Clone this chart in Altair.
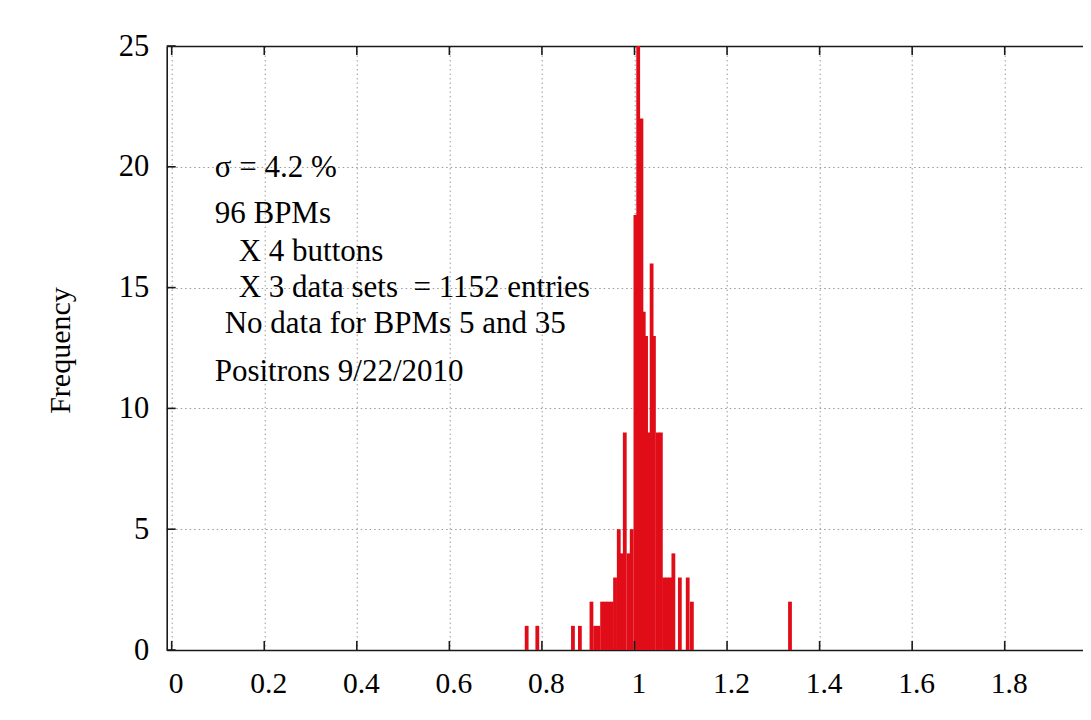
import altair as alt
import pandas as pd

# ---- data ----
gain = [0.767, 0.790, 0.867, 0.882, 0.907, 0.915, 0.922, 0.930, 0.937, 0.944,
        0.951, 0.958, 0.966, 0.972, 0.979, 0.987, 0.994, 1.002, 1.008, 1.015,
        1.020, 1.025, 1.031, 1.037, 1.042, 1.050, 1.057, 1.064, 1.071, 1.078,
        1.084, 1.098, 1.115, 1.124, 1.336]
freq = [1, 1, 1, 1, 2, 1, 1, 2, 2, 2,
        2, 3, 5, 4, 9, 4, 5, 18, 25, 22,
        14, 13, 9, 16, 13, 9, 9, 3, 3, 3,
        4, 3, 3, 2, 2]
x_ticks = [0, 0.2, 0.4, 0.6, 0.8, 1.0, 1.2, 1.4, 1.6, 1.8]
y_ticks = [0, 5, 10, 15, 20, 25]

note_sigma = "σ = 4.2 %"
note_bpms = "96 BPMs"
note_buttons = "X 4 buttons"
note_sets = "X 3 data sets \u00a0= 1152 entries"
note_missing = "No data for BPMs 5 and 35"
note_beam = "Positrons 9/22/2010"

x_title = "Fitted button gain"
y_title = "Frequency"

# ---- layout / style ----
PAD_L = 158.7
W = 1075 - PAD_L
H = 604
X_MAX = W / 467.9
FONT = "Liberation Serif"
RED = "#e00d18"
FRAME = "#1a1a1a"
GRID = "#9a9a9a"
NOTE_SIZE = 31

df = pd.DataFrame({"gain": gain, "freq": freq})
xt = pd.DataFrame({"t": x_ticks})
yt = pd.DataFrame({"t": y_ticks})

xs = alt.Scale(domain=[0, X_MAX], nice=False, zero=False)
ys = alt.Scale(domain=[0, 25], nice=False)

y_axis = alt.Axis(
    values=y_ticks, grid=True, gridDash=[1.5, 3], gridColor=GRID, gridWidth=1,
    ticks=False, tickSize=0, domain=True, domainColor=FRAME, domainWidth=1.6,
    labelFont=FONT, labelFontSize=30.5, labelColor="black", labelPadding=18,
    labelFlush=False, title=y_title, titleFont=FONT, titleFontSize=30,
    titleFontWeight="normal", titleColor="black", titleAngle=-90,
    titleX=-106, titleY=H / 2 + 2, titleAlign="center", titleBaseline="middle")

bars = alt.Chart(df).mark_bar(size=3.8, color=RED).encode(
    x=alt.X("gain:Q", scale=xs, axis=alt.Axis(
        values=x_ticks, format="~g", grid=True, gridDash=[1.5, 3], gridColor=GRID,
        gridWidth=1, ticks=False, tickSize=0, domain=True, domainColor=FRAME,
        domainWidth=1.6, labelFont=FONT, labelFontSize=29.5, labelColor="black",
        labelPadding=19, labelOffset=4, labelFlush=False, labelOverlap=False,
        title=x_title, titleFont=FONT, titleFontSize=30, titleFontWeight="normal",
        titleColor="black", titleY=H + 79, titleBaseline="alphabetic")),
    y=alt.Y("freq:Q", scale=ys, axis=y_axis),
)

top_frame = alt.Chart(xt).mark_rule(color=FRAME, strokeWidth=1.6).encode(
    x=alt.X("t:Q", scale=xs, axis=alt.Axis(orient="top", labels=False, ticks=False,
                                           grid=False, domain=True, domainColor=FRAME,
                                           domainWidth=1.6, title=None)),
    y=alt.value(0), y2=alt.value(9),
)
bottom_ticks = alt.Chart(xt).mark_rule(color=FRAME, strokeWidth=1.6).encode(
    x=alt.X("t:Q", scale=xs, axis=None),
    y=alt.value(H), y2=alt.value(H - 9),
)
left_ticks = alt.Chart(yt).mark_rule(color=FRAME, strokeWidth=1.6).encode(
    y=alt.Y("t:Q", scale=ys, axis=y_axis),
    x=alt.value(0), x2=alt.value(9),
)


def note(text, px, py):
    return alt.Chart(pd.DataFrame({"s": [text]})).mark_text(
        font=FONT, fontSize=NOTE_SIZE, color="black", align="left",
        baseline="alphabetic"
    ).encode(text="s:N", x=alt.value(px), y=alt.value(py))


notes = [
    note(note_sigma, 48, 131),
    note(note_bpms, 48, 177),
    note(note_buttons, 72, 215),
    note(note_sets, 72, 251),
    note(note_missing, 58, 287),
    note(note_beam, 48, 335),
]

chart = alt.layer(bars, top_frame, bottom_ticks, left_ticks, *notes).resolve_axis(
    x="independent"
).properties(
    width=W, height=H,
    autosize=alt.AutoSizeParams(type="none"),
    padding={"left": PAD_L, "top": 38, "right": 0, "bottom": 62},
    background="white",
).configure_view(stroke=None, strokeWidth=0)

chart.save("out.html", embed_options={"renderer": "svg", "actions": False})
